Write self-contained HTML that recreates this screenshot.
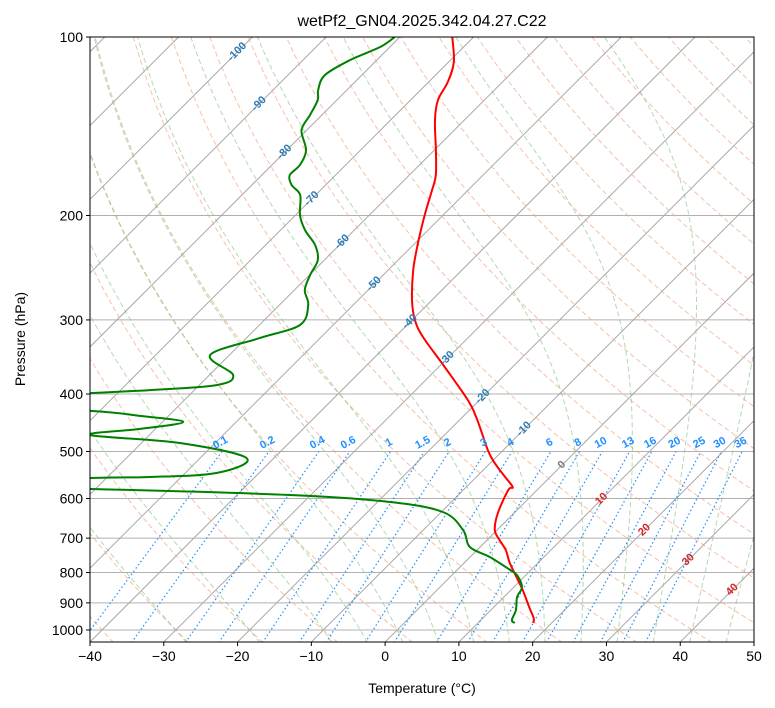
<!DOCTYPE html>
<html><head><meta charset="utf-8">
<style>
body{margin:0;background:#fff;}
svg{display:block;font-family:"Liberation Sans","DejaVu Sans",sans-serif;}
</style></head>
<body>
<svg id="chart" width="775" height="708" viewBox="0 0 775 708" xmlns="http://www.w3.org/2000/svg">
<defs><clipPath id="clip"><rect x="90" y="37" width="664" height="605"/></clipPath></defs>
<rect x="0" y="0" width="775" height="708" fill="#fff"/>
<text x="422" y="26" font-size="16" text-anchor="middle">wetPf2_GN04.2025.342.04.27.C22</text>
<g id="bg" clip-path="url(#clip)"></g>
<g id="prof" clip-path="url(#clip)"></g>
<g id="lbl"></g>
<rect x="90" y="37" width="664" height="605" fill="none" stroke="#000" stroke-width="1"/>
<g id="axes"></g>
<text x="422" y="693" font-size="14" text-anchor="middle">Temperature (°C)</text>
<text transform="translate(25,339) rotate(-90)" font-size="14" text-anchor="middle">Pressure (hPa)</text>
</svg>
<script>
// ---- data ----
const tempP = [100,110.2,119.1,127.7,138,155.1,171,181.1,199.7,224.3,247.2,277.7,300.1,320.6,360.1,409.4,442.4,497.3,523,552.1,574.1,580.7,634.9,678.4,705.2,733.2,771,823.6,856.2,914.9,955,973.2];
const tempT = [-72.9,-69.3,-67.4,-66.3,-64,-59.8,-56.4,-54.9,-52.5,-49.4,-46.6,-42.7,-39.6,-36.2,-29.2,-21.6,-17.6,-12.1,-9.4,-6.1,-3.7,-3.9,-2.2,-0.3,1.7,3.9,6.2,9.6,11.6,14.8,16.9,17.5];
const dewP = [100,103.9,109.3,115.9,122.8,127.7,135.4,143.6,155.1,164.4,171,177.7,184.7,199.7,211.6,224.3,237.7,251.9,267.1,283.1,306,321.9,343.8,371.5,386.3,393.9,398.5,412.6,427.1,435.5,445.8,458.1,469,483.8,513,543.4,552.1,554.2,567.3,578.4,592,608.3,632.4,678.4,724.4,753.4,792.2,807.9,846.4,879.9,925.6,962,973.2];
const dewT = [-80.7,-81.3,-83.6,-85,-83.9,-82.6,-81.6,-80.7,-77.4,-76.2,-76.2,-74.6,-72.1,-69.4,-66.7,-63.3,-60.9,-59.9,-58.6,-56.1,-54.5,-58.2,-62.6,-56.8,-57.6,-66,-73.7,-95,-71.3,-63.9,-57.2,-62.1,-68.1,-54.8,-43.7,-45.7,-54.2,-62.2,-95,-60.7,-32.8,-18.3,-9.8,-4.6,-1.4,2.7,7.2,8.8,11.1,11.8,13.4,14.2,15];
const xTicks = [-40,-30,-20,-10,0,10,20,30,40,50];
const pTicks = [100,200,300,400,500,600,700,800,900,1000];
const mixVals = [0.1,0.2,0.4,0.6,1,1.5,2,3,4,6,8,10,13,16,20,25,30,36];
const isoLabelVals = [-100,-90,-80,-70,-60,-50,-40,-30,-20,-10,0,10,20,30,40];
const isoLabelP = [105.2,128.7,155.2,186,220,259,300,346,401,455,523,597,673,756,849];
// ---- axes ----
const X0=90,X1=754,Y0=37,Y1=642,PPD=593,KX=7.378;
function yOf(p){return Y0+PPD*(Math.log10(p)-2);}
function xOf(T,p){return X0+(T+40)*KX+(Y1-yOf(p));}
const NS="http://www.w3.org/2000/svg";
function mk(tag,attrs,parent){const e=document.createElementNS(NS,tag);for(const k in attrs)e.setAttribute(k,attrs[k]);parent.appendChild(e);return e;}
const bg=document.getElementById('bg'),prof=document.getElementById('prof'),lbl=document.getElementById('lbl'),axes=document.getElementById('axes');
function ptsStr(pa,ta){return pa.map((p,i)=>xOf(ta[i],p).toFixed(1)+','+yOf(p).toFixed(1)).join(' ');}
function smoothPath(pa,ta){const P=pa.map((p,i)=>[xOf(ta[i],p),yOf(p)]);let d='M'+P[0][0].toFixed(1)+','+P[0][1].toFixed(1);
for(let i=0;i<P.length-1;i++){const p0=P[i-1]||P[i],p1=P[i],p2=P[i+1],p3=P[i+2]||P[i+1];
const c1=[p1[0]+(p2[0]-p0[0])/6,p1[1]+(p2[1]-p0[1])/6],c2=[p2[0]-(p3[0]-p1[0])/6,p2[1]-(p3[1]-p1[1])/6];
d+=' C'+c1[0].toFixed(1)+','+c1[1].toFixed(1)+' '+c2[0].toFixed(1)+','+c2[1].toFixed(1)+' '+p2[0].toFixed(1)+','+p2[1].toFixed(1);}
return d;}
// pressure grid
pTicks.forEach(p=>{const l=mk('line',{x1:X0,x2:X1,y1:yOf(p),y2:yOf(p),stroke:'#b0b0b0','stroke-width':1},bg);

});
// isotherms
for(let T=-160;T<=50;T+=10){const l=mk('line',{x1:xOf(T,1050),y1:yOf(1050),x2:xOf(T,100),y2:yOf(100),stroke:'#a8a8a8','stroke-width':1},bg);

}
// dry adiabats
const pl=[];for(let p=1050;p>=100;p-=10)pl.push(p);
for(let th=-40;th<=230;th+=10){const ta=pl.map(p=>(th+273.15)*Math.pow(p/1000,0.2857)-273.15);
const l=mk('polyline',{points:ptsStr(pl,ta),fill:'none',stroke:'#f4a582','stroke-opacity':0.7,'stroke-width':1,'stroke-dasharray':'5,3'},bg);

}
// moist adiabats
function es(Tc){return 6.112*Math.exp(17.67*Tc/(Tc+243.5));}
function dTdp(T,p){const Tc=T-273.15;const rs=0.622*es(Tc)/(p-es(Tc));const Rd=287,Lv=2.501e6,Cp=1005;
return (1/p)*(Rd*T+Lv*rs)/(Cp+Lv*Lv*rs*0.622/(Rd*T*T));}
function moist(T0){const up=[],upT=[];let T=T0+273.15;
for(let p=1000;p>=100;p-=5){up.push(p);upT.push(T-273.15);const k1=dTdp(T,p),k2=dTdp(T-2.5*k1,p-2.5);T-=5*k2;}
let Td=T0+273.15;const dn=[],dnT=[];for(let p=1000;p<1050;p+=5){const k1=dTdp(Td,p);Td+=5*k1;dn.push(p+5);dnT.push(Td-273.15);}
return [dn.reverse().concat(up),dnT.reverse().concat(upT)];}
[-30,-20,-10,-5,0,5,10,15,20,25,30,35,40,45].forEach(T0=>{const r=moist(T0);
const l=mk('polyline',{points:ptsStr(r[0],r[1]),fill:'none',stroke:'#7fbf7f','stroke-opacity':0.6,'stroke-width':1,'stroke-dasharray':'5,3'},bg);

});
// mixing ratio lines
function tdW(w,p){const e=w*p/(622+w);const a=Math.log(e/6.112);return 243.5*a/(17.67-a);}
mixVals.forEach(w=>{const pa=[1050,500];const ta=pa.map(p=>tdW(w,p));
const l=mk('polyline',{points:ptsStr(pa,ta),fill:'none',stroke:'#1e90ff','stroke-width':1.2,'stroke-dasharray':'1.5,2.5'},bg);


const x=xOf(tdW(w,500),500);
const t=mk('text',{x:x,y:yOf(500)-6,'font-size':11,'font-weight':'bold',fill:'#1e90ff','text-anchor':'middle',transform:'rotate(-28 '+x+' '+(yOf(500)-6)+')'},lbl);
t.textContent=String(w);

});
// isotherm labels
isoLabelVals.forEach((v,i)=>{const p=isoLabelP[i];const x=xOf(v,p),y=yOf(p)+4;
const col=v<0?'#2c7bb6':(v===0?'#777':'#d62728');
const t=mk('text',{x:x,y:y,'font-size':11,'font-weight':'bold',fill:col,'text-anchor':'middle',transform:'rotate(-45 '+x+' '+y+')'},lbl);
t.textContent=String(v);

});
// profiles
const tl=mk('path',{d:smoothPath(tempP,tempT),fill:'none',stroke:'#ff0000','stroke-width':2,'stroke-linejoin':'round'},prof);


const dl=mk('path',{d:smoothPath(dewP,dewT),fill:'none',stroke:'#008000','stroke-width':2,'stroke-linejoin':'round'},prof);


// ticks
xTicks.forEach(T=>{const x=X0+(T+40)*KX;mk('line',{x1:x,x2:x,y1:Y1,y2:Y1+4,stroke:'#000'},axes);
const t=mk('text',{x:x,y:Y1+19,'font-size':14,'text-anchor':'middle'},axes);t.textContent=String(T).replace('-','−');

});
pTicks.forEach(p=>{const y=yOf(p);mk('line',{x1:X0-4,x2:X0,y1:y,y2:y,stroke:'#000'},axes);
const t=mk('text',{x:X0-7,y:y+5,'font-size':14,'text-anchor':'end'},axes);t.textContent=String(p);

});
</script>
</body></html>
